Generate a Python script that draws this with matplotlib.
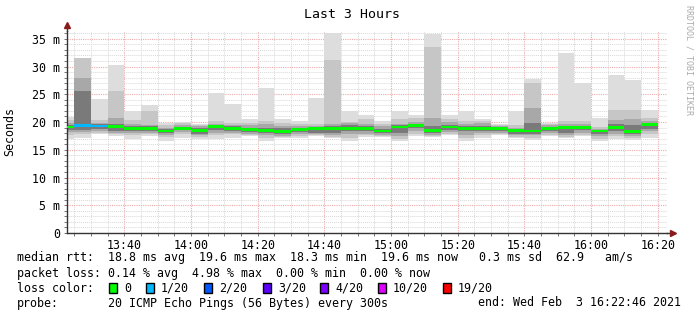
import numpy as np
import matplotlib.pyplot as plt
from matplotlib.patches import Rectangle
from matplotlib.ticker import MultipleLocator, FixedLocator

W, H = 697, 315
MONO = 'DejaVu Sans Mono'

# time in minutes after 13:00; graph spans 13:22:46 .. 16:22:46
t_start, t_end = 22.767, 202.767
# start of each 5 minute step (first one is cut by the graph start)
bar_start = [22.767] + list(range(25, 200, 5))

# smoke bands (ms), outermost first
rtt_max = [20.9, 31.5, 24.2, 30.3, 22.0, 23.0, 19.8, 20.0, 19.7, 25.2, 23.2, 20.6,
           26.1, 20.6, 20.1, 24.3, 36.0, 21.9, 21.2, 20.1, 22.0, 21.2, 35.8, 21.2,
           21.9, 20.6, 19.6, 21.9, 27.8, 19.9, 32.4, 27.0, 20.7, 28.5, 27.5, 22.2]
hi2 = [20.3, 31.5, 20.4, 25.5, 20.4, 21.9, 19.4, 19.8, 19.5, 20.2, 19.9, 19.9,
       20.2, 19.8, 19.7, 19.6, 31.2, 20.0, 20.5, 19.6, 20.6, 20.7, 33.6, 20.6,
       20.1, 20.1, 19.4, 19.5, 27.0, 19.7, 20.1, 20.1, 19.1, 22.2, 22.1, 20.8]
hi3 = [19.8, 28.0, 19.9, 20.7, 19.6, 19.5, 19.0, 19.4, 19.2, 19.7, 19.5, 19.4,
       19.6, 19.3, 19.3, 19.2, 19.6, 19.8, 19.6, 19.2, 19.7, 20.0, 20.7, 20.0,
       19.6, 19.8, 19.2, 19.0, 22.5, 19.4, 19.7, 19.6, 18.8, 20.4, 20.5, 20.2]
hi4 = [19.4, 25.6, 19.6, 19.6, 19.2, 19.2, 18.7, 19.1, 18.9, 19.5, 19.2, 19.0,
       19.0, 18.9, 19.0, 19.0, 19.2, 19.5, 19.2, 18.8, 19.4, 19.7, 19.3, 19.5,
       19.2, 19.2, 19.0, 18.8, 19.9, 19.1, 19.3, 19.3, 18.6, 19.6, 19.4, 19.9]
median = [19.1, 19.4, 19.3, 19.2, 18.8, 18.8, 18.4, 18.8, 18.5, 19.2, 18.9, 18.6,
          18.5, 18.3, 18.6, 18.8, 18.8, 18.9, 18.8, 18.4, 19.1, 19.4, 18.5, 19.1,
          18.9, 18.9, 18.8, 18.5, 18.4, 18.9, 19.0, 19.0, 18.4, 19.0, 18.3, 19.6]
lo4 = [18.6, 18.6, 18.8, 18.4, 18.4, 18.4, 18.0, 18.5, 17.9, 18.5, 18.4, 18.2,
       18.1, 17.8, 18.2, 18.0, 18.0, 18.3, 18.3, 18.0, 18.0, 18.9, 18.0, 18.6,
       18.3, 18.4, 18.4, 17.9, 17.9, 18.4, 18.0, 18.5, 17.9, 18.3, 17.8, 18.8]
lo3 = [18.2, 18.2, 18.4, 18.0, 18.1, 18.1, 17.6, 18.2, 17.6, 18.0, 18.1, 17.9,
       17.6, 17.5, 17.8, 17.8, 17.6, 17.8, 17.9, 17.7, 17.4, 18.3, 17.7, 18.2,
       17.6, 18.0, 18.1, 17.6, 17.6, 18.0, 17.6, 18.1, 17.5, 17.8, 17.5, 18.3]
lo2 = [17.6, 17.8, 18.1, 17.8, 17.7, 17.8, 17.3, 17.8, 17.3, 17.6, 17.8, 17.6,
       17.2, 17.3, 17.4, 17.6, 17.3, 17.2, 17.6, 17.5, 17.0, 17.8, 17.5, 17.9,
       17.1, 17.6, 17.8, 17.3, 17.2, 17.7, 17.3, 17.7, 17.0, 17.4, 17.2, 17.9]
rtt_min = [17.0, 17.2, 17.8, 17.4, 17.0, 17.4, 16.5, 17.1, 17.0, 17.0, 17.2, 17.4,
           16.6, 17.1, 17.1, 17.4, 17.1, 16.6, 17.3, 17.3, 16.5, 17.4, 17.3, 17.7,
           16.5, 17.1, 17.6, 17.1, 16.8, 17.4, 17.1, 17.4, 16.5, 17.0, 16.8, 17.1]
# lost pings out of 20
loss = [0, 1, 1, 0, 0, 0, 0, 0, 0, 0, 0, 0, 0, 0, 0, 0, 0, 0,
        0, 0, 0, 0, 0, 0, 0, 0, 0, 0, 0, 0, 0, 0, 0, 0, 0, 0]

loss_keys = [0, 1, 2, 3, 4, 10, 19]
loss_labels = ['0', '1/20', '2/20', '3/20', '4/20', '10/20', '19/20']
loss_colors = ['#00ff00', '#00b8ff', '#0059ff', '#5e00ff', '#7e00ff', '#dd00ff', '#ff0000']

x_ticks = [40, 60, 80, 100, 120, 140, 160, 180, 200]
x_labels = ['13:40', '14:00', '14:20', '14:40', '15:00', '15:20', '15:40', '16:00', '16:20']


def fx(px):
    return px / W


def fy(py):
    return 1 - py / H


fig = plt.figure(figsize=(W / 100, H / 100), dpi=100)
ax = fig.add_axes([fx(67), fy(233), fx(600), (233 - 31) / H])

starts = np.array(bar_start, dtype=float)
widths = np.append(starts[1:], 200) - starts
bands = [(rtt_min, rtt_max, '#dddddd'), (lo2, hi2, '#c6c6c6'),
         (lo3, hi3, '#a8a8a8'), (lo4, hi4, '#7a7a7a')]
for lo, hi, c in bands:
    lo = np.array(lo)
    hi = np.array(hi)
    ax.bar(starts, hi - lo, width=widths, bottom=lo, align='edge',
           color=c, linewidth=0, zorder=2)

med_col = [loss_colors[loss_keys.index(v)] for v in loss]
ax.bar(starts, 0.5, width=widths, bottom=np.array(median) - 0.25, align='edge',
       color=med_col, linewidth=0, zorder=3)

ax.set_xlim(t_start, t_end)
ax.set_ylim(0, 36.4)
ax.xaxis.set_major_locator(FixedLocator(x_ticks))
ax.xaxis.set_minor_locator(MultipleLocator(5))
ax.set_xticklabels(x_labels, family=MONO, fontsize=8.4)
ax.yaxis.set_major_locator(MultipleLocator(5))
ax.yaxis.set_minor_locator(MultipleLocator(1))
yt = np.arange(0, 36, 5)
ax.set_yticks(yt)
ax.set_yticklabels(['0' if v == 0 else f'{v} m' for v in yt], family=MONO, fontsize=8.4)

ax.grid(which='minor', color='#d8d8d8', linestyle=(0, (1, 1)), linewidth=0.7, zorder=1)
ax.grid(which='major', color='#eeaaaa', linestyle=(0, (1, 1)), linewidth=0.8, zorder=1)
ax.set_axisbelow(True)
ax.tick_params(which='both', length=2, width=0.7, color='#777777', pad=3)
ax.tick_params(axis='x', which='major', pad=2)

for s in ['top', 'right']:
    ax.spines[s].set_visible(False)
for s in ['left', 'bottom']:
    ax.spines[s].set_color('#333333')
    ax.spines[s].set_linewidth(1.0)

# axis arrows
ax.plot([0, 0], [1, 1.02], transform=ax.transAxes, color='#333333', lw=1, clip_on=False)
ax.plot([0], [1.03], marker='^', color='#8b1a1a', markersize=5, transform=ax.transAxes, clip_on=False)
ax.plot([1, 1.008], [0, 0], transform=ax.transAxes, color='#333333', lw=1, clip_on=False)
ax.plot([1.01], [0], marker='>', color='#8b1a1a', markersize=5, transform=ax.transAxes, clip_on=False)

fig.text(fx(352), fy(14), 'Last 3 Hours', family=MONO, fontsize=9.5, ha='center', va='center')
fig.text(fx(10), fy(131), 'Seconds', family=MONO, fontsize=8.4, rotation=90, ha='center', va='center')
fig.text(fx(689), fy(5), 'RRDTOOL / TOBI OETIKER', family=MONO, fontsize=6, rotation=270,
         ha='center', va='top', color='#aaaaaa')

fs = 8.4
fig.text(fx(17), fy(258), 'median rtt:  18.8 ms avg  19.6 ms max  18.3 ms min  19.6 ms now   0.3 ms sd  62.9   am/s',
         family=MONO, fontsize=fs, va='center')
fig.text(fx(17), fy(273), 'packet loss: 0.14 % avg  4.98 % max  0.00 % min  0.00 % now',
         family=MONO, fontsize=fs, va='center')
fig.text(fx(17), fy(288), 'loss color:', family=MONO, fontsize=fs, va='center')
box_x = [109, 146, 204, 263, 320, 378, 443]
for bx, lab, col in zip(box_x, loss_labels, loss_colors):
    fig.patches.append(Rectangle((fx(bx), fy(293)), 8 / W, 10 / H, transform=fig.transFigure,
                                 facecolor=col, edgecolor='black', linewidth=1))
    fig.text(fx(bx + 15), fy(288), lab, family=MONO, fontsize=fs, va='center')
fig.text(fx(17), fy(303), 'probe:', family=MONO, fontsize=fs, va='center')
fig.text(fx(107.6), fy(303), '20 ICMP Echo Pings (56 Bytes) every 300s', family=MONO, fontsize=fs, va='center')
fig.text(fx(681), fy(303), 'end: Wed Feb  3 16:22:46 2021', family=MONO, fontsize=fs, va='center', ha='right')

fig.savefig('out.png', dpi=100)
